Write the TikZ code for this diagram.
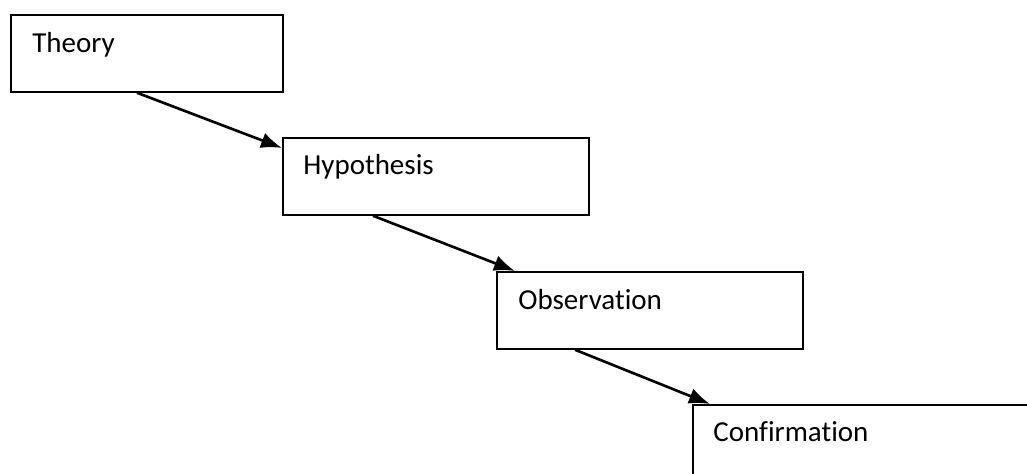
\documentclass[tikz,border=0pt]{standalone}
\usepackage{fontspec}
\setmainfont{Carlito}[Ligatures=NoCommon]
\usetikzlibrary{arrows.meta}
\tikzset{
	stagebox/.style={draw, line width=1pt, rectangle, anchor=north west, inner sep=0pt, minimum height=1.54cm},
	stagetext/.style={anchor=base west, inner sep=0pt, font=\fontsize{16.5}{19}\selectfont},
	flow/.style={line width=1.5pt, -{Latex[length=4.2mm, width=3.2mm]}}
}
\begin{document}
\begin{tikzpicture}
		\useasboundingbox(0, 0) rectangle (20.54, -9.48);
		\node[stagebox, minimum width=5.44cm](th)at(.2, -.28){};
		\node[stagebox, minimum width=6.12cm](hy)at(5.64, -2.74){};
		\node[stagebox, minimum width=6.12cm](ob)at(9.92, -5.42){};
		\node[stagebox, minimum width=7cm](co)at(13.84, -8.08){};
		\node[stagetext](thtext)at(.64, -1.06){Theory};
		\node[stagetext](hytext)at(6.06, -3.5){Hypothesis};
		\node[stagetext](obtext)at(10.36, -6.2){Observation};
		\node[stagetext](cotext)at(14.26, -8.84){Confirmation};
		\draw[flow]([xshift=2.54cm]th.south west)--([yshift=-.22cm]hy.north west);
		\draw[flow]([xshift=1.82cm]hy.south west)--([xshift=.38cm]ob.north west);
		\draw[flow]([xshift=1.58cm]ob.south west)--([xshift=.36cm]co.north west);
	\end{tikzpicture}
\end{document}
